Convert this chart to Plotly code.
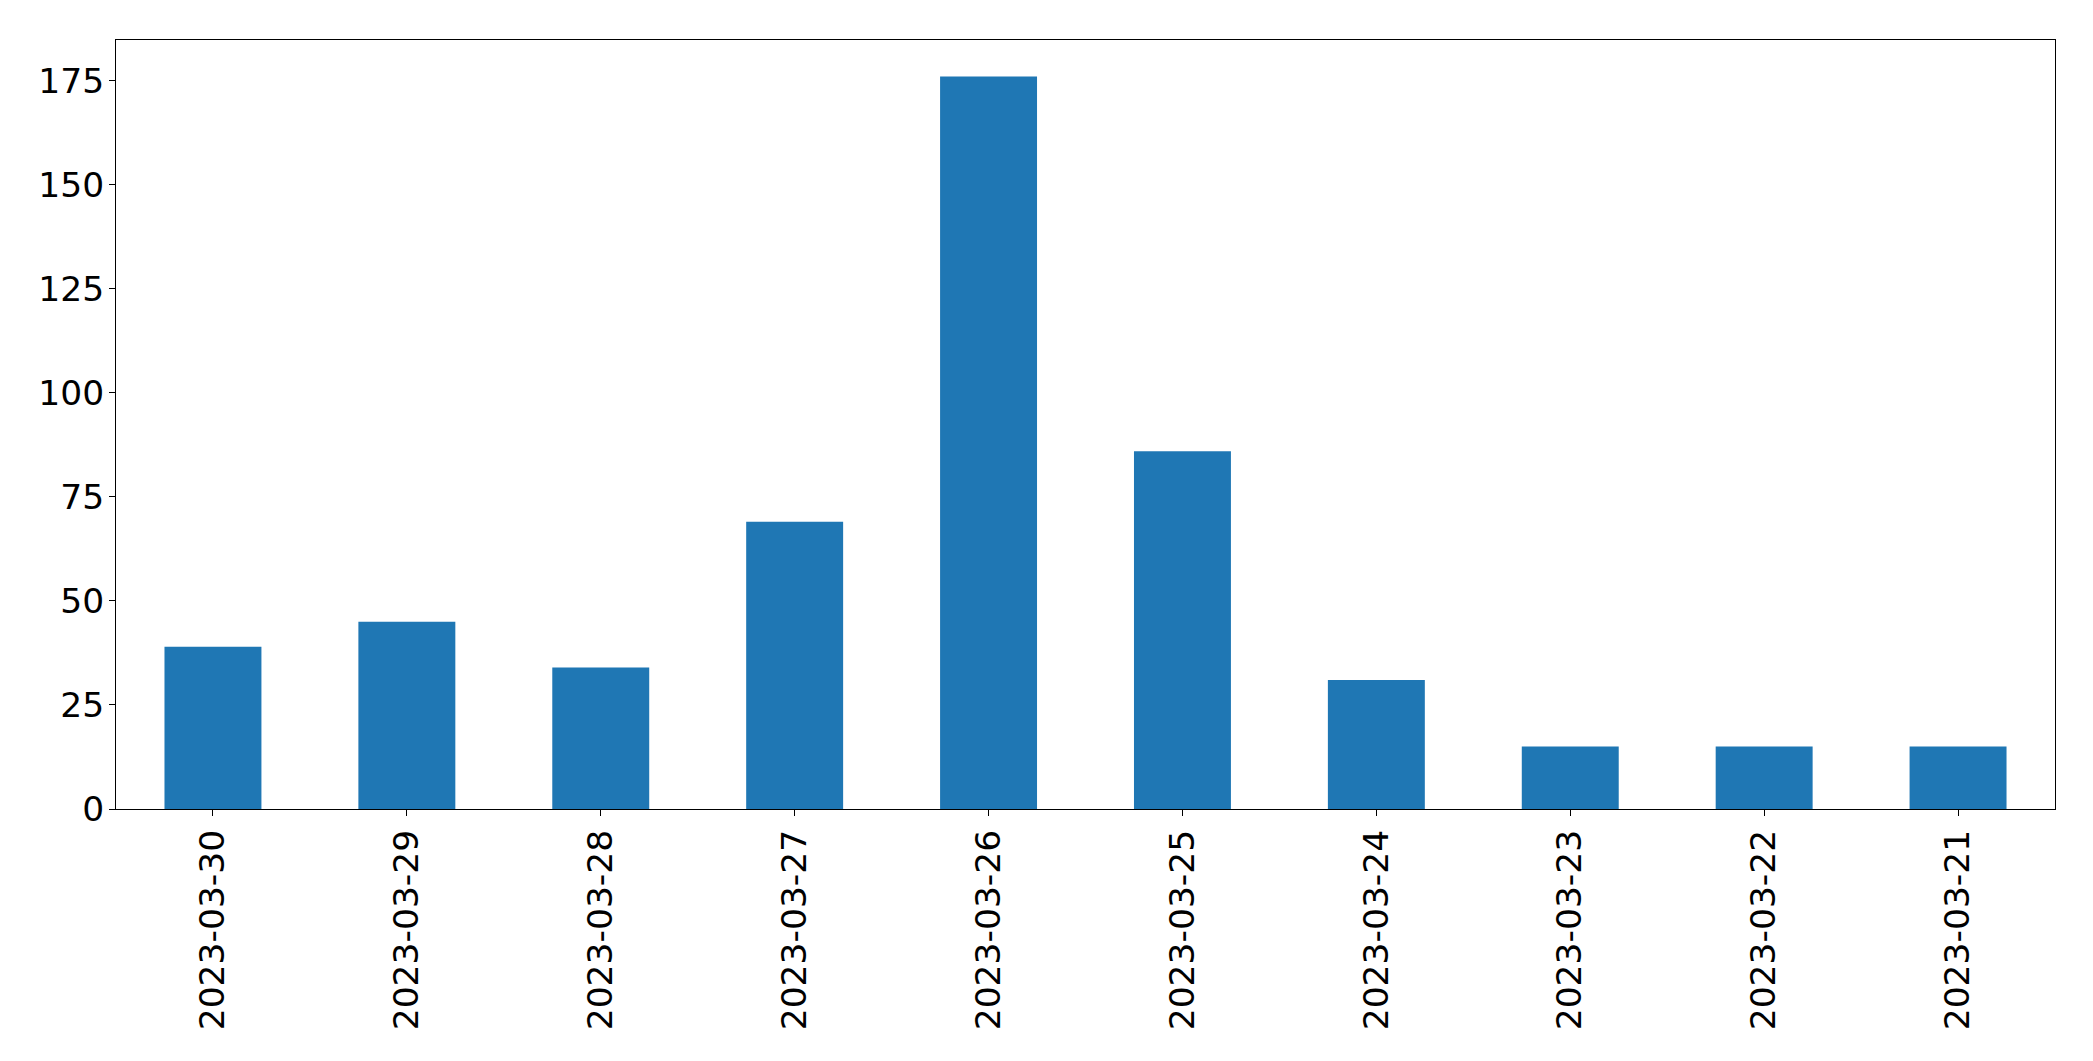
import plotly.graph_objects as go

dates = ["2023-03-30", "2023-03-29", "2023-03-28", "2023-03-27", "2023-03-26",
         "2023-03-25", "2023-03-24", "2023-03-23", "2023-03-22", "2023-03-21"]
counts = [39, 45, 34, 69, 176, 86, 31, 15, 15, 15]
y_ticks = [0, 25, 50, 75, 100, 125, 150, 175]

fig = go.Figure(go.Bar(x=dates, y=counts, marker=dict(color="#1f77b4", line=dict(width=0)), width=0.5))

# page body has an 8px margin, so the figure is shrunk by 8px and margins shifted
fig.update_layout(
    width=2085, height=1053,
    margin=dict(l=108, r=38, t=32, b=252),
    plot_bgcolor="white", paper_bgcolor="white",
    font=dict(family="DejaVu Sans", size=34.5, color="black"),
    showlegend=False,
)
fig.update_xaxes(
    type="category", range=[-0.5, 9.5], tickangle=-90,
    showline=True, linecolor="black", linewidth=1, mirror=True,
    ticks="outside", ticklen=6, tickcolor="black", showgrid=False,
)
fig.update_yaxes(
    range=[0, 184.8], tickvals=y_ticks,
    showline=True, linecolor="black", linewidth=1, mirror=True,
    ticks="outside", ticklen=6, tickcolor="black", showgrid=False, zeroline=False,
    ticklabelstandoff=-2,
)
fig.write_html("out.html")
